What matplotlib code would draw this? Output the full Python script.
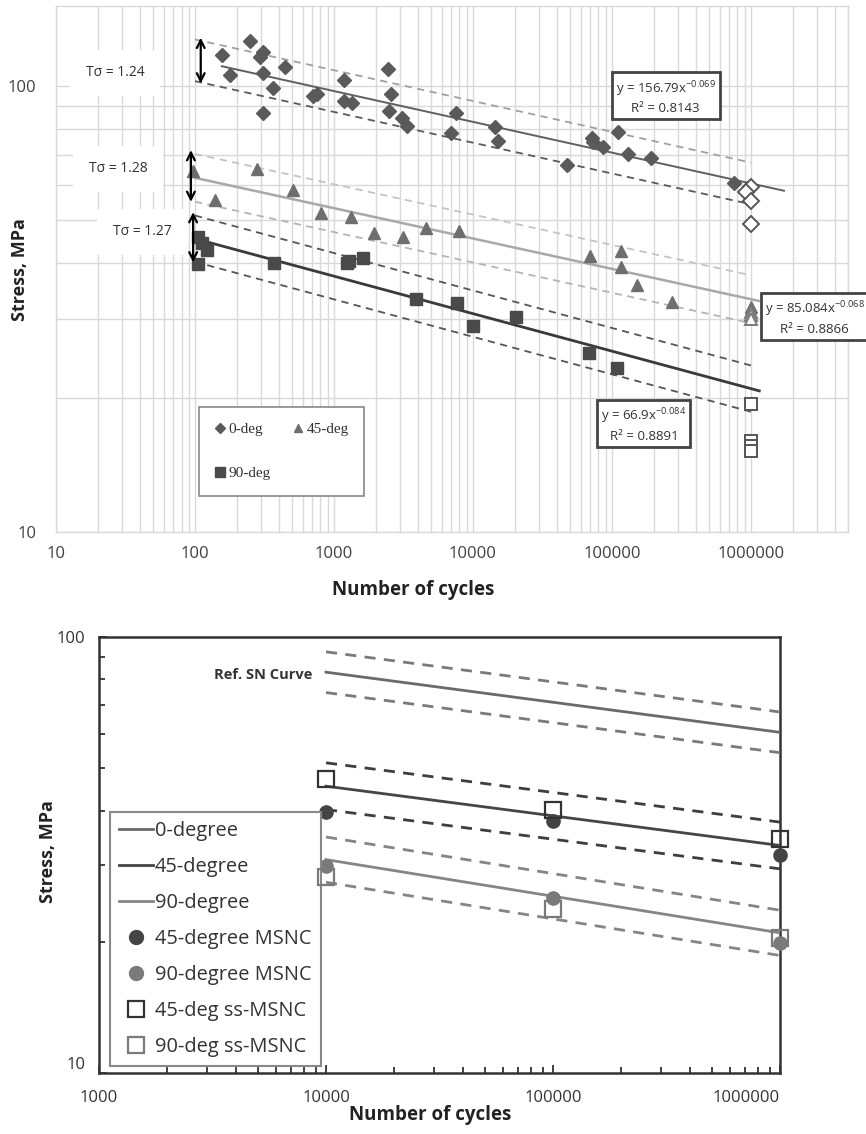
import numpy as np
import matplotlib
matplotlib.use('Agg')
import matplotlib.pyplot as plt
from matplotlib.ticker import LogLocator, FixedLocator, NullFormatter
from matplotlib.lines import Line2D

plt.rcParams['font.family'] = ['Open Sans', 'DejaVu Sans']
plt.rcParams['mathtext.fontset'] = 'custom'
plt.rcParams['mathtext.rm'] = 'Open Sans'
plt.rcParams['mathtext.it'] = 'Open Sans:italic'
plt.rcParams['mathtext.bf'] = 'Open Sans:bold'

# ---------------- Top chart data ----------------
deg0_cycles = [156, 179, 249, 308, 294, 308, 444, 364, 308, 751, 706, 1180, 1180, 1345,
               2440, 2570, 2490, 3085, 3350, 7550, 6950, 14400, 15100, 47500, 71800,
               73000, 86100, 110000, 130000, 191000, 755000]
deg0_stress = [117, 106, 126, 119, 116, 107, 110, 99, 87, 96, 95, 103, 92.5, 91.6,
               109, 96, 88, 84.8, 81.3, 86.9, 78.3, 80.9, 75.2, 66.4, 76.4,
               74.8, 72.9, 78.8, 70.3, 68.9, 60.5]
deg0_runout_cycles = [1.0e6, 0.93e6, 1.0e6, 1.0e6]
deg0_runout_stress = [59.2, 57.7, 55.1, 49.1]

deg45_cycles = [97, 279, 139, 507, 806, 1325, 1940, 3135, 4590, 7920, 69500, 116000,
                116000, 151000, 270000, 1000000]
deg45_stress = [64.4, 65, 55.6, 58.3, 52, 50.9, 46.9, 45.9, 47.9, 47.2, 41.6, 42.7,
                39.3, 35.8, 32.8, 31.9]
deg45_runout_cycles = [1.0e6, 1.0e6, 1.0e6]
deg45_runout_stress = [31.2, 30.6, 30.0]

deg90_cycles = [105, 112, 122, 105, 370, 1240, 1283, 1620, 3890, 7680, 10000, 20400,
                68400, 109000]
deg90_stress = [45.9, 44.5, 42.8, 39.9, 40.1, 40.1, 40.4, 41.2, 33.2, 32.6, 29, 30.3,
                25.2, 23.3]
deg90_runout_cycles = [1.0e6, 1.0e6, 1.0e6, 1.0e6]
deg90_runout_stress = [19.4, 16.0, 15.6, 15.2]

fit_coef = [156.79, 85.084, 66.9]
fit_exp = [-0.069, -0.068, -0.084]
fit_r2 = [0.8143, 0.8866, 0.8891]
fit_range = [(156, 1.73e6), (100, 1.14e6), (105, 1.15e6)]
t_sigma = [1.24, 1.28, 1.27]
band_range = (100, 1.0e6)

top_xticks = [10, 100, 1000, 10000, 100000, 1000000]
top_yticks = [10, 100]

# ---------------- Bottom chart data ----------------
bot_cycles = [1e4, 1e5, 1e6]
msnc45 = [39.6, 37.8, 31.7]
msnc90 = [29.9, 25.2, 19.9]
ss45 = [47.2, 40.2, 34.5]
ss90 = [28.1, 23.8, 20.4]
bot_range = (1e4, 1e6)
bot_xticks = [1000, 10000, 100000, 1000000]
bot_yticks = [10, 100]
curve_names = ['0-degree', '45-degree', '90-degree']

W, H = 866, 1134
fig = plt.figure(figsize=(W / 100, H / 100), dpi=100)


def fx(px):
    return px / W


def fy(py):
    return 1 - py / H


# =============== TOP CHART ===============
ax1 = fig.add_axes([fx(56), fy(532), (848 - 56) / W, (532 - 6) / H])
ax1.set_xscale('log')
ax1.set_yscale('log')
ax1.set_xlim(10, 5e6)
ax1.set_ylim(10, 151)
ax1.xaxis.set_major_locator(FixedLocator(top_xticks))
ax1.xaxis.set_minor_locator(LogLocator(base=10, subs=np.arange(2, 10), numticks=30))
ax1.yaxis.set_major_locator(FixedLocator(top_yticks))
ax1.yaxis.set_minor_locator(LogLocator(base=10, subs=np.arange(2, 10), numticks=30))
ax1.xaxis.set_minor_formatter(NullFormatter())
ax1.yaxis.set_minor_formatter(NullFormatter())
ax1.set_xticklabels([str(t) for t in top_xticks])
ax1.set_yticklabels([str(t) for t in top_yticks])
ax1.grid(True, which='both', color='#d9d9d9', lw=1.0, zorder=0)
ax1.set_axisbelow(True)
for s in ax1.spines.values():
    s.set_color('#d9d9d9')
    s.set_linewidth(1.0)
ax1.tick_params(which='both', length=0, labelsize=12, labelcolor='#404040')
ax1.tick_params(axis='x', pad=10)
ax1.tick_params(axis='y', pad=14)

line_cols = ['#606060', '#a8a8a8', '#3a3a3a']
line_lws = [1.4, 1.8, 2.0]
band_cols = [('#a0a0a0', '#5a5a5a'), ('#c4c4c4', '#b4b4b4'), ('#555555', '#555555')]
for i in range(3):
    xs = np.logspace(np.log10(fit_range[i][0]), np.log10(fit_range[i][1]), 60)
    ax1.plot(xs, fit_coef[i] * xs ** fit_exp[i], color=line_cols[i], lw=line_lws[i], zorder=3)
    xb = np.logspace(np.log10(band_range[0]), np.log10(band_range[1]), 60)
    f = np.sqrt(t_sigma[i])
    yb = fit_coef[i] * xb ** fit_exp[i]
    ax1.plot(xb, yb * f, color=band_cols[i][0], lw=1.3, ls=(0, (4, 3)), zorder=3)
    ax1.plot(xb, yb / f, color=band_cols[i][1], lw=1.3, ls=(0, (4, 3)), zorder=3)

ax1.plot(deg0_cycles, deg0_stress, 'D', ms=7, color='#5a5a5a', ls='none', zorder=5, clip_on=False)
ax1.plot(deg45_cycles, deg45_stress, '^', ms=8, color='#6e6e6e', ls='none', zorder=5, clip_on=False)
ax1.plot(deg90_cycles, deg90_stress, 's', ms=8.5, color='#4a4a4a', ls='none', zorder=5, clip_on=False)
ax1.plot(deg0_runout_cycles, deg0_runout_stress, 'D', ms=8, mfc='white', mec='#555555', mew=1.4, ls='none', zorder=5)
ax1.plot(deg45_runout_cycles, deg45_runout_stress, '^', ms=8, mfc='white', mec='#7a7a7a', mew=1.4, ls='none', zorder=5)
ax1.plot(deg90_runout_cycles, deg90_runout_stress, 's', ms=8.5, mfc='white', mec='#555555', mew=1.4, ls='none', zorder=5)

# T-sigma arrows and labels
arrow_x = [110, 93.5, 97]
tlabel_pos = [(26.6, 107), (27.9, 65.2), (41.6, 47.1)]
for i in range(3):
    f = np.sqrt(t_sigma[i])
    yc = fit_coef[i] * arrow_x[i] ** fit_exp[i]
    ax1.annotate('', xy=(arrow_x[i], yc * f * 1.03), xytext=(arrow_x[i], yc / f / 1.02),
                 arrowprops=dict(arrowstyle='<->', lw=1.6, color='black', mutation_scale=14),
                 zorder=6)
    ax1.text(tlabel_pos[i][0], tlabel_pos[i][1], 'T\u03c3 = %.2f' % t_sigma[i], fontsize=10,
             color='#333333', ha='center', va='center', zorder=4,
             bbox=dict(boxstyle='square,pad=1.1', fc='white', ec='none'))

# Equation boxes
eq_pos = [(2.44e5, 94.4), (2.88e6, 30.2), (1.7e5, 17.4)]
for i in range(3):
    coef_txt = ('%g' % fit_coef[i])
    txt = 'y = %sx$^{%s}$\nR\u00b2 = %.4f' % (coef_txt, ('%.3f' % fit_exp[i]).replace('-', '\u2212'), fit_r2[i])
    ax1.text(eq_pos[i][0], eq_pos[i][1], txt, fontsize=9.5, color='#333333', ha='center',
             va='center', linespacing=1.35, zorder=7, clip_on=False,
             bbox=dict(boxstyle='square,pad=0.3', fc='white', ec='#444444', lw=2.0))

# top legend
h0 = Line2D([], [], marker='D', ls='none', color='#5a5a5a', ms=5)
h45 = Line2D([], [], marker='^', ls='none', color='#6e6e6e', ms=6)
h90 = Line2D([], [], marker='s', ls='none', color='#4a4a4a', ms=7)
leg1 = ax1.legend([h0, h90, h45], ['0-deg', '90-deg', '45-deg'], ncol=2, loc='upper left',
                  bbox_to_anchor=(fx(199), fy(407)), bbox_transform=fig.transFigure,
                  borderaxespad=0, frameon=True, fancybox=False, framealpha=1,
                  edgecolor='#888888', prop={'family': 'Liberation Serif', 'size': 11},
                  handlelength=0.7, handletextpad=0.2, labelspacing=2.0, columnspacing=1.5,
                  borderpad=1.0)
leg1.get_frame().set_linewidth(1.2)
for t in leg1.get_texts():
    t.set_color('#333333')

fig.text(fx(20), fy(270), 'Stress, MPa', rotation=90, fontsize=13, fontweight='bold',
         color='#222222', ha='center', va='center')
fig.text(fx(413), fy(590), 'Number of cycles', fontsize=13.5, fontweight='bold',
         color='#222222', ha='center', va='center')

# =============== BOTTOM CHART ===============
ax2 = fig.add_axes([fx(99), fy(1073), (780 - 99) / W, (1073 - 637) / H])
ax2.set_xscale('log')
ax2.set_yscale('log')
ax2.set_xlim(1000, 1e6)
ax2.set_ylim(10, 100)
ax2.xaxis.set_major_locator(FixedLocator(bot_xticks))
ax2.xaxis.set_minor_locator(LogLocator(base=10, subs=np.arange(2, 10), numticks=30))
ax2.yaxis.set_major_locator(FixedLocator(bot_yticks))
ax2.yaxis.set_minor_locator(LogLocator(base=10, subs=np.arange(2, 10), numticks=30))
ax2.xaxis.set_minor_formatter(NullFormatter())
ax2.yaxis.set_minor_formatter(NullFormatter())
ax2.set_xticklabels([str(t) for t in bot_xticks])
ax2.set_yticklabels([str(t) for t in bot_yticks])
for s in ax2.spines.values():
    s.set_color('#333333')
    s.set_linewidth(1.8)
ax2.tick_params(which='both', direction='in', color='#333333', width=1.3,
                labelsize=12, labelcolor='#333333', top=False, right=False)
ax2.tick_params(which='major', length=6)
ax2.tick_params(which='minor', length=4.5)
ax2.tick_params(axis='x', pad=12)
ax2.tick_params(axis='y', pad=10)
xl = ax2.get_xticklabels()
xl[-1].set_ha('right')
yl = ax2.get_yticklabels()
yl[0].set_va('bottom')

bl_cols = ['#6a6a6a', '#454545', '#858585']
bd_cols = ['#7a7a7a', '#3e3e3e', '#858585']
xs2 = np.logspace(np.log10(bot_range[0]), np.log10(bot_range[1]), 40)
curve_handles = []
for i in range(3):
    y2 = fit_coef[i] * xs2 ** fit_exp[i]
    f = np.sqrt(t_sigma[i])
    h, = ax2.plot(xs2, y2, color=bl_cols[i], lw=2.0, zorder=3)
    curve_handles.append(h)
    ax2.plot(xs2, y2 * f, color=bd_cols[i], lw=2.0, ls=(0, (4, 3)), zorder=3)
    ax2.plot(xs2, y2 / f, color=bd_cols[i], lw=2.0, ls=(0, (4, 3)), zorder=3)

hm45, = ax2.plot(bot_cycles, msnc45, 'o', ms=9.5, color='#444444', ls='none', zorder=5, clip_on=False)
hm90, = ax2.plot(bot_cycles, msnc90, 'o', ms=9.5, color='#7a7a7a', ls='none', zorder=5, clip_on=False)
hs45, = ax2.plot(bot_cycles, ss45, 's', ms=11, mfc='none', mec='#333333', mew=1.6, ls='none', zorder=6, clip_on=False)
hs90, = ax2.plot(bot_cycles, ss90, 's', ms=11, mfc='none', mec='#7a7a7a', mew=1.6, ls='none', zorder=6, clip_on=False)

ax2.text(8700, 82, 'Ref. SN Curve', fontsize=10.5, fontweight='bold', color='#333333',
         ha='right', va='center')

leg_h = curve_handles + [
    Line2D([], [], marker='o', ls='none', color='#444444', ms=10),
    Line2D([], [], marker='o', ls='none', color='#7a7a7a', ms=10),
    Line2D([], [], marker='s', ls='none', mfc='none', mec='#333333', mew=1.6, ms=11),
    Line2D([], [], marker='s', ls='none', mfc='none', mec='#7a7a7a', mew=1.6, ms=11),
]
leg_l = curve_names + ['45-degree MSNC', '90-degree MSNC', '45-deg ss-MSNC', '90-deg ss-MSNC']
leg2 = ax2.legend(leg_h, leg_l, loc='upper left', bbox_to_anchor=(fx(110), fy(812)),
                  bbox_transform=fig.transFigure, borderaxespad=0, frameon=True,
                  fancybox=False, framealpha=1, edgecolor='#888888', fontsize=14.4,
                  handlelength=1.7, handletextpad=0.1, labelspacing=0.8, borderpad=0.45)
leg2.get_frame().set_linewidth(1.5)
for t in leg2.get_texts():
    t.set_color('#333333')

fig.text(fx(48), fy(852), 'Stress, MPa', rotation=90, fontsize=13, fontweight='bold',
         color='#222222', ha='center', va='center')
fig.text(fx(430), fy(1115), 'Number of cycles', fontsize=13.5, fontweight='bold',
         color='#222222', ha='center', va='center')

fig.savefig('out.png', dpi=100)
